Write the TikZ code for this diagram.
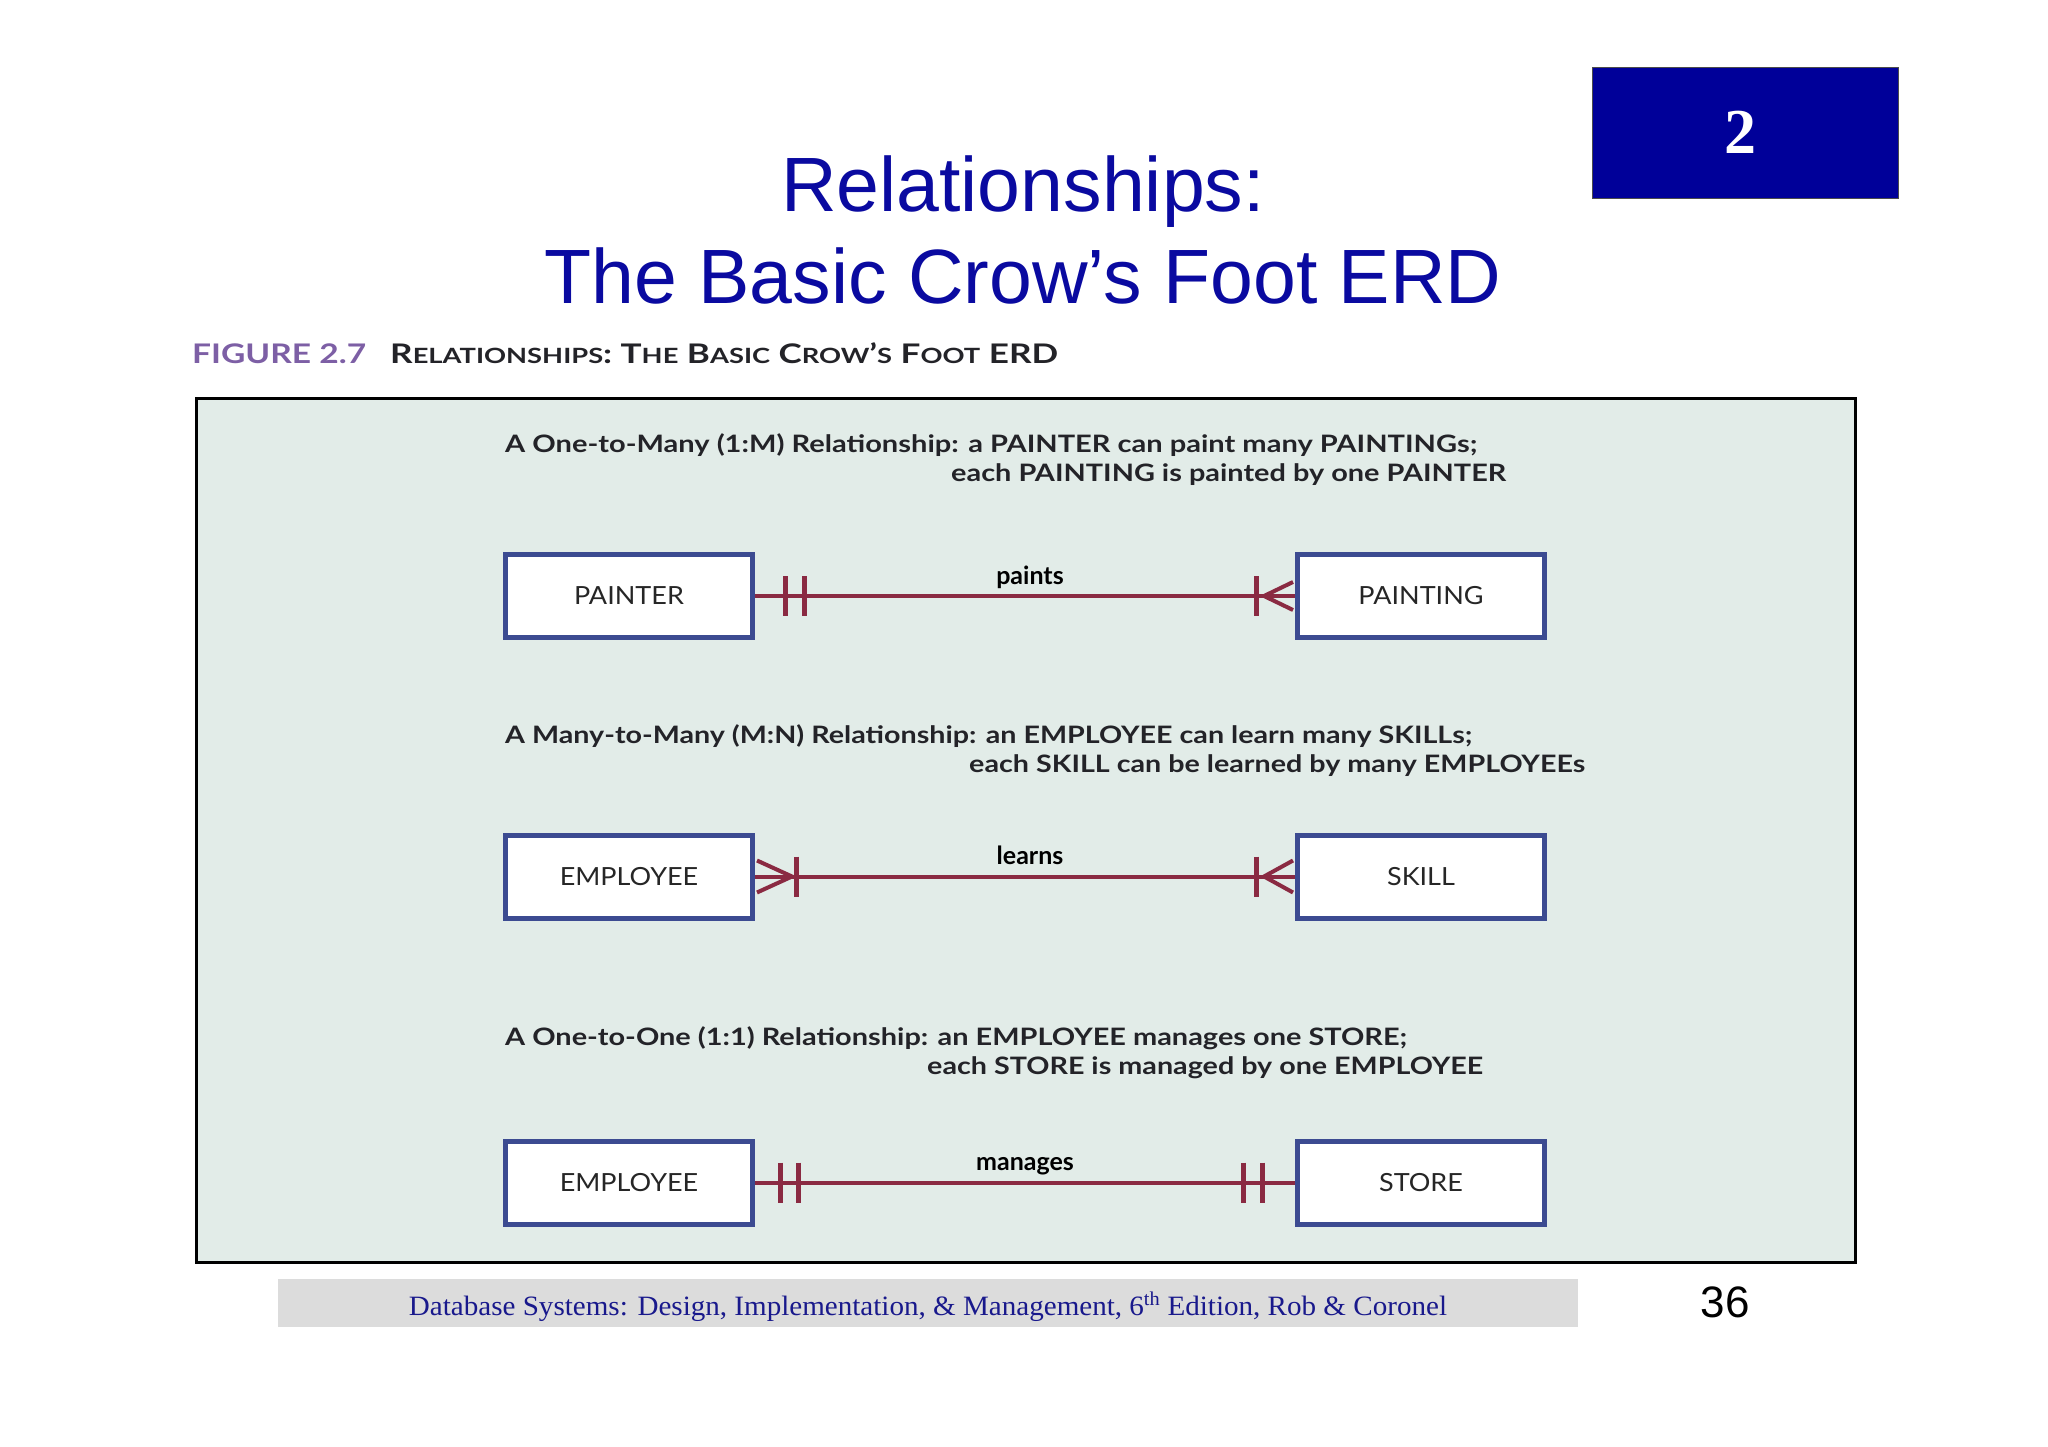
\documentclass[tikz,border=0pt]{standalone}
\usepackage{fontspec}
\usepackage{graphicx}
\setmainfont{Lato}
\newfontfamily\arialfont{Liberation Sans}
\newfontfamily\timesfont{Liberation Serif}
\newfontfamily\optfont{Lato}
\newfontfamily\entfont[FakeStretch=1.08]{Lato}
\usetikzlibrary{calc}
\definecolor{mint}{RGB}{226,236,232}
\definecolor{entblue}{RGB}{60,75,145}
\definecolor{relred}{RGB}{138,42,66}
\definecolor{titleblue}{RGB}{10,10,160}
\definecolor{numblue}{RGB}{0,0,153}
\definecolor{footblue}{RGB}{25,25,140}
\definecolor{footgray}{RGB}{220,220,220}
\definecolor{figpurple}{RGB}{125,95,165}
\definecolor{capdark}{RGB}{35,35,40}
\newcommand{\fitw}[2]{\resizebox{#1}{\height}{#2}}
\newcommand{\sml}[1]{{\fontsize{21pt}{21pt}\selectfont #1}}
\begin{document}
\begin{tikzpicture}[x=1pt,y=-1pt,
  entity/.style={draw=entblue, line width=5pt, fill=white, minimum width=247pt,
    minimum height=83pt, inner sep=0pt, font=\entfont\fontsize{25pt}{25pt}\selectfont, text=black!85},
  rel/.style={draw=relred, line width=4pt},
  barline/.style={draw=relred, line width=5pt},
  prong/.style={draw=relred, line width=4pt},
  lbl/.style={midway, anchor=base, yshift=12pt, inner sep=0pt, text=black,
    font=\optfont\bfseries\fontsize{25pt}{25pt}\selectfont},
  desc/.style={anchor=base west, inner sep=0pt, text=capdark,
    font=\optfont\bfseries\fontsize{24pt}{24pt}\selectfont},
  titletext/.style={anchor=base, inner sep=0pt, text=titleblue,
    font=\arialfont\fontsize{77pt}{92pt}\selectfont}
]
\useasboundingbox (0,0) rectangle (2048,1447);
\fill[white] (0,0) rectangle (2048,1447);

% chapter box
\node[draw=black!70, line width=1pt, fill=numblue, minimum width=306pt, minimum height=131pt,
  anchor=north west, inner sep=0pt] (chap) at (1592,67) {};
\node[anchor=base, inner sep=0pt, text=white,
  font=\timesfont\bfseries\fontsize{64pt}{64pt}\selectfont] (chapno) at (1740,154) {2};

% title
\node[titletext] (t1) at (1023,212) {Relationships:};
\node[titletext] (t2) at (1023,304) {The Basic Crow’s Foot ERD};

% caption
\node[anchor=base west, inner sep=0pt, text=figpurple, font=\optfont\bfseries\fontsize{27pt}{27pt}\selectfont]
  (figno) at (192,363) {\fitw{174pt}{FIGURE 2.7}};
\node[anchor=base west, inner sep=0pt, text=capdark, font=\optfont\bfseries\fontsize{27pt}{27pt}\selectfont]
  (figcap) at (390,363) {\fitw{668pt}{R\sml{ELATIONSHIPS}: T\sml{HE} B\sml{ASIC} C\sml{ROW}’\sml{S} F\sml{OOT} ERD}};

% frame
\draw[line width=3pt, fill=mint] (196,398) rectangle (1855,1262);

% descriptions
\node[desc] (d1a) at (505,452) {\fitw{972pt}{A One-to-Many (1:M) Relationship: a PAINTER can paint many PAINTINGs;}};
\node[desc] (d1b) at (951,481) {\fitw{555pt}{each PAINTING is painted by one PAINTER}};
\node[desc] (d2a) at (505,743) {\fitw{967pt}{A Many-to-Many (M:N) Relationship: an EMPLOYEE can learn many SKILLs;}};
\node[desc] (d2b) at (969,772) {\fitw{616pt}{each SKILL can be learned by many EMPLOYEEs}};
\node[desc] (d3a) at (505,1045) {\fitw{902pt}{A One-to-One (1:1) Relationship: an EMPLOYEE manages one STORE;}};
\node[desc] (d3b) at (927,1074) {\fitw{556pt}{each STORE is managed by one EMPLOYEE}};

% entities
\node[entity] (painter) at (629,596) {PAINTER};
\node[entity] (painting) at (1421,596) {PAINTING};
\node[entity] (emp1) at (629,876.5) {EMPLOYEE};
\node[entity] (skill) at (1421,876.5) {SKILL};
\node[entity] (emp2) at (629,1182.5) {EMPLOYEE};
\node[entity] (store) at (1421,1182.5) {STORE};

% 1:M
\draw[rel] (painter.east) -- node[lbl, xshift=5pt] {paints} (painting.west);
\draw[barline] ($(painter.east)+(30,-20)$) -- ($(painter.east)+(30,20)$);
\draw[barline] ($(painter.east)+(49,-20)$) -- ($(painter.east)+(49,20)$);
\draw[barline] ($(painting.west)+(-38.5,-20)$) -- ($(painting.west)+(-38.5,20)$);
\draw[prong] ($(painting.west)+(-2,-14)$) -- ($(painting.west)+(-31,0)$) -- ($(painting.west)+(-2,14)$);

% M:N
\draw[rel] (emp1.east) -- node[lbl, xshift=5pt] {learns} (skill.west);
\draw[prong] ($(emp1.east)+(2,-16)$) -- ($(emp1.east)+(37,0)$) -- ($(emp1.east)+(2,16)$);
\draw[barline] ($(emp1.east)+(41.5,-20)$) -- ($(emp1.east)+(41.5,20)$);
\draw[barline] ($(skill.west)+(-38.5,-20)$) -- ($(skill.west)+(-38.5,20)$);
\draw[prong] ($(skill.west)+(-2,-16)$) -- ($(skill.west)+(-31,0)$) -- ($(skill.west)+(-2,16)$);

% 1:1
\draw[rel] (emp2.east) -- node[lbl] {manages} (store.west);
\draw[barline] ($(emp2.east)+(25,-20)$) -- ($(emp2.east)+(25,20)$);
\draw[barline] ($(emp2.east)+(43.5,-20)$) -- ($(emp2.east)+(43.5,20)$);
\draw[barline] ($(store.west)+(-51.5,-20)$) -- ($(store.west)+(-51.5,20)$);
\draw[barline] ($(store.west)+(-32.5,-20)$) -- ($(store.west)+(-32.5,20)$);

% footer
\fill[footgray] (278,1279) rectangle (1578,1327);
\node[anchor=base, inner sep=0pt, text=footblue, font=\timesfont\fontsize{28pt}{28pt}\selectfont]
  (foot) at (928,1315) {\fitw{1038pt}{Database Systems: Design, Implementation, \& Management, 6\textsuperscript{th} Edition, Rob \& Coronel}};
\node[anchor=base, inner sep=0pt, font=\arialfont\fontsize{44pt}{44pt}\selectfont] (pg) at (1725,1317) {36};
\end{tikzpicture}
\end{document}
